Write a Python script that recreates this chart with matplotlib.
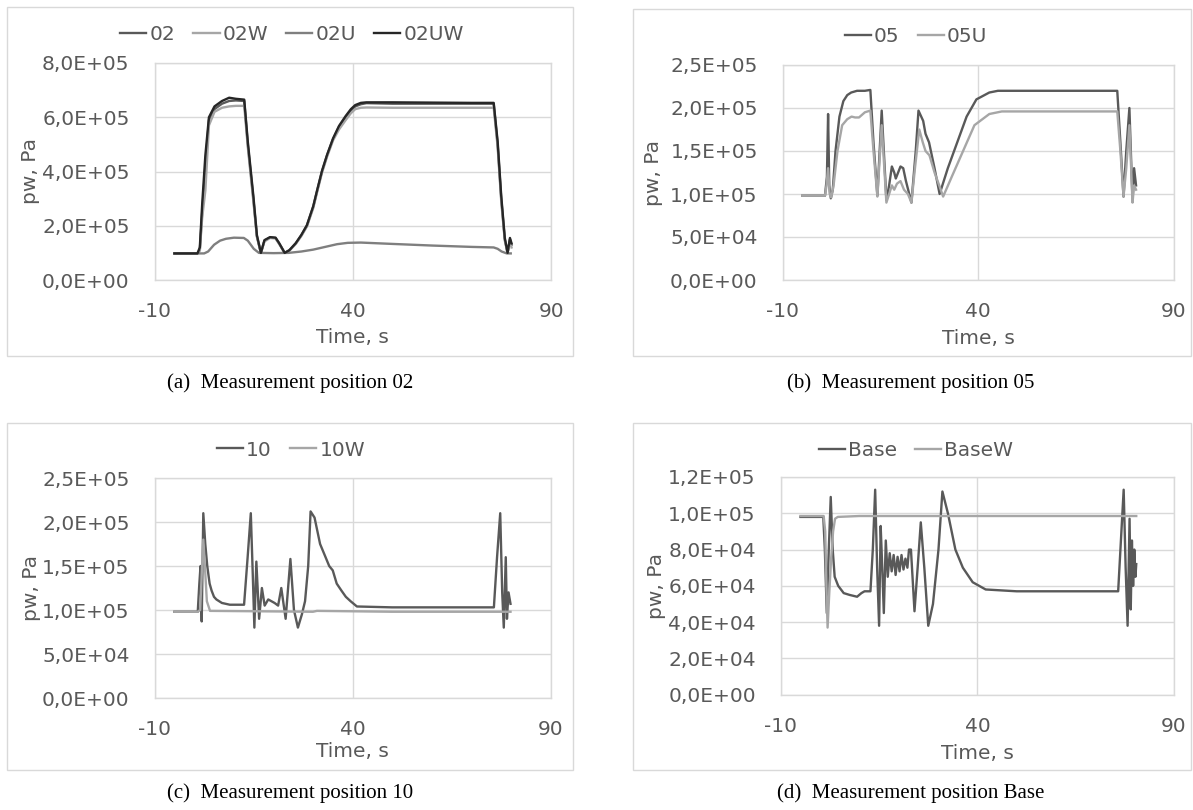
import matplotlib
matplotlib.use("Agg")
import matplotlib.pyplot as plt
from matplotlib.patches import Rectangle
from matplotlib.ticker import FuncFormatter, MultipleLocator, FixedLocator

# ---------------- data (pressure in units of 1e5 Pa) ----------------
x_ticks = [-10, 40, 90]

# Panel (a) position 02
t_a = [-5, 0.8, 1.4, 2.0, 2.8, 3.7, 5.1, 7.0, 8.8, 10.5, 12.6, 13.5, 14.9, 15.8, 16.8,
       17.7, 19.1, 20.5, 21.4, 22.8, 24.0, 25.6, 27.0, 28.4, 30.0, 31.0, 32.2, 33.5,
       35.0, 36.5, 38.2, 39.5, 40.6, 42.0, 43.4, 50, 60, 70, 75.5, 76.5, 77.4, 78.3,
       79.0, 79.6, 80.0]
p_02 = [0.98, 0.98, 1.1, 2.5, 4.2, 5.9, 6.3, 6.5, 6.6, 6.62, 6.6, 5.0, 3.0, 1.6, 1.0,
        1.45, 1.57, 1.55, 1.35, 1.0, 1.1, 1.35, 1.65, 2.0, 2.7, 3.3, 4.0, 4.6,
        5.2, 5.65, 6.0, 6.25, 6.4, 6.48, 6.52, 6.5, 6.5, 6.5, 6.5, 5.0, 3.0, 1.5,
        1.0, 1.5, 1.3]
p_02W = [0.98, 0.98, 1.1, 2.3, 3.3, 5.7, 6.2, 6.35, 6.4, 6.42, 6.42, 4.9, 2.9, 1.6, 1.0,
         1.42, 1.55, 1.53, 1.33, 1.0, 1.08, 1.33, 1.62, 1.97, 2.65, 3.25, 3.95, 4.55,
         5.15, 5.55, 5.9, 6.15, 6.3, 6.35, 6.36, 6.35, 6.35, 6.35, 6.35, 4.9, 2.9, 1.45,
         1.0, 1.4, 1.2]
p_02UW = [0.98, 0.98, 1.2, 2.8, 4.6, 6.0, 6.4, 6.6, 6.72, 6.68, 6.65, 5.1, 3.1, 1.65, 1.0,
          1.47, 1.58, 1.56, 1.36, 1.0, 1.1, 1.36, 1.66, 2.02, 2.72, 3.32, 4.02, 4.62,
          5.22, 5.68, 6.05, 6.3, 6.45, 6.53, 6.55, 6.55, 6.54, 6.53, 6.53, 5.1, 3.1, 1.55,
          1.0, 1.55, 1.35]
t_02U = [-5, 2.5, 3.5, 5, 6.5, 8, 10, 12.5, 13.5, 15, 16.3, 20, 23.8, 27, 30, 33, 36,
         38.7, 42, 50, 60, 70, 75.5, 76.5, 77.5, 78.8, 79.8]
p_02U = [0.98, 0.98, 1.05, 1.3, 1.45, 1.52, 1.56, 1.55, 1.45, 1.15, 1.0, 0.99, 1.0, 1.05,
         1.12, 1.22, 1.32, 1.37, 1.38, 1.33, 1.27, 1.22, 1.2, 1.15, 1.05, 0.98, 0.98]

# Panel (b) position 05
t_05 = [-5, 0.8, 1.3, 1.6, 1.9, 2.3, 2.8, 3.5, 4.5, 5.5, 6.5, 7.5, 9.0, 11.0, 12.4, 13.2,
        14.2, 15.3, 16.5, 17.2, 17.9, 18.5, 18.9, 19.5, 20.1, 20.8, 21.5, 22.9, 24.0,
        24.7, 25.9, 26.5, 27.4, 28.8, 30.1, 32.2, 34.6, 37.0, 39.5, 42.8, 45, 60, 75.5,
        76.3, 77.1, 77.8, 78.6, 79.4, 79.8, 80.3]
p_05 = [0.98, 0.98, 1.2, 1.93, 1.1, 0.95, 1.05, 1.5, 1.9, 2.08, 2.15, 2.18, 2.2, 2.2, 2.21,
        1.6, 0.98, 1.97, 0.93, 1.1, 1.32, 1.25, 1.18, 1.25, 1.32, 1.3, 1.15, 0.9, 1.5,
        1.97, 1.85, 1.7, 1.6, 1.3, 1.0, 1.3, 1.6, 1.9, 2.1, 2.18, 2.2, 2.2, 2.2,
        1.6, 0.97, 1.5, 2.0, 0.92, 1.3, 1.1]
t_05U = [-5, 0.8, 1.2, 1.6, 2.0, 2.4, 3.0, 4.0, 5.2, 6.5, 7.6, 8.5, 9.5, 10.5, 11.0, 12.4,
         13.2, 14.2, 15.3, 16.5, 17.2, 17.9, 18.5, 19.2, 20.1, 21.0, 22.0, 22.9, 23.8,
         24.9, 25.8, 26.5, 27.5, 28.8, 30.0, 31.0, 33.2, 36.1, 39.0, 42.8, 46, 60, 75.5,
         76.3, 77.1, 77.8, 78.6, 79.4, 79.8, 80.3]
p_05U = [0.98, 0.98, 1.1, 1.3, 1.0, 0.96, 1.1, 1.5, 1.8, 1.87, 1.9, 1.89, 1.89, 1.93, 1.95,
         1.97, 1.5, 0.97, 1.8, 0.9, 1.0, 1.1, 1.05, 1.12, 1.15, 1.05, 1.0, 0.9, 1.3,
         1.75, 1.6, 1.5, 1.45, 1.25, 1.1, 0.97, 1.2, 1.5, 1.8, 1.93, 1.96, 1.96, 1.96,
         1.5, 0.97, 1.3, 1.8, 0.9, 1.1, 1.05]

# Panel (c) position 10
t_10 = [-5, 0.9, 1.3, 1.6, 1.9, 2.3, 2.8, 3.3, 3.9, 4.4, 5.0, 5.6, 7.0, 9, 12.6, 13.5, 14.3,
        14.8, 15.2, 15.7, 16.4, 17.1, 17.8, 18.7, 19.5, 20.3, 21.2, 22.0, 23.1, 24.3, 25.2,
        26.2, 27.2, 28.0, 28.8, 29.4, 30.4, 31.8, 33.0, 34.1, 35.0, 36.0, 37.2, 38.3, 39.5,
        41.1, 50, 60, 75.7, 76.5, 77.3, 77.8, 78.2, 78.7, 79.0, 79.4, 79.9]
p_10 = [0.98, 0.98, 1.3, 1.5, 0.87, 2.1, 1.75, 1.5, 1.3, 1.22, 1.15, 1.12, 1.08, 1.06, 1.06,
        1.6, 2.1, 1.4, 0.8, 1.55, 0.9, 1.25, 1.05, 1.12, 1.1, 1.08, 1.05, 1.25, 0.9, 1.58,
        1.0, 0.8, 0.95, 1.1, 1.5, 2.12, 2.05, 1.75, 1.62, 1.5, 1.45, 1.3, 1.22, 1.15, 1.1,
        1.04, 1.03, 1.03, 1.03, 1.6, 2.1, 1.2, 0.8, 1.6, 0.9, 1.2, 1.07]
t_10W = [-5, 0.9, 1.5, 2.0, 2.3, 2.7, 3.2, 4.0, 30, 31, 50, 79.9]
p_10W = [0.98, 0.98, 1.0, 1.5, 1.8, 1.5, 1.1, 0.99, 0.98, 0.99, 0.98, 0.98]

# Panel (d) position Base
t_B = [-5, 0.8, 1.2, 1.7, 2.2, 2.7, 3.2, 3.7, 4.6, 6.0, 7.5, 9.4, 10.5, 11.3, 12.8, 13.4,
       14.0, 14.5, 15.0, 15.4, 15.8, 16.2, 16.7, 17.2, 17.7, 18.2, 18.7, 19.2, 19.7, 20.2,
       20.7, 21.2, 21.7, 22.2, 22.6, 23.1, 24.0, 24.8, 25.6, 26.5, 27.5, 28.7, 30.1, 31.1,
       32.5, 34.4, 36.3, 38.8, 42.1, 50, 60, 75.8, 76.5, 77.2, 77.7, 78.2, 78.7, 79.0,
       79.3, 79.6, 79.9, 80.2, 80.4]
p_B = [0.98, 0.98, 0.8, 0.45, 0.8, 1.09, 0.8, 0.65, 0.6, 0.56, 0.55, 0.54, 0.56, 0.57, 0.57,
       0.8, 1.13, 0.7, 0.38, 0.93, 0.7, 0.45, 0.85, 0.65, 0.78, 0.68, 0.77, 0.66, 0.76, 0.68,
       0.77, 0.69, 0.75, 0.7, 0.8, 0.8, 0.46, 0.7, 0.95, 0.7, 0.38, 0.5, 0.8, 1.12,
       1.0, 0.8, 0.7, 0.62, 0.58, 0.57, 0.57, 0.57, 0.85, 1.13, 0.7, 0.38, 0.97, 0.47,
       0.85, 0.6, 0.8, 0.65, 0.72]
t_BW = [-5, 0.9, 1.3, 1.6, 1.9, 2.3, 2.8, 3.3, 3.8, 4.5, 10, 30, 50, 70, 80.4]
p_BW = [0.985, 0.985, 0.9, 0.6, 0.37, 0.55, 0.75, 0.9, 0.97, 0.98, 0.985, 0.985, 0.985,
        0.985, 0.985]

C_DARK = "#595959"
C_LIGHT = "#a6a6a6"
C_MID = "#7f7f7f"
C_BLACK = "#262626"
TXT = "#595959"
GRID = "#d9d9d9"

W, H = 1193, 810
FS = 14.5
plt.rcParams["font.family"] = ["DejaVu Sans"]
plt.rcParams["axes.unicode_minus"] = False

fig = plt.figure(figsize=(W / 100, H / 100), dpi=100)


def rect(l, r, t, b):
    return [l / W, 1 - b / H, (r - l) / W, (b - t) / H]


def sci(v, pos):
    return f"{v:.1E}".replace(".", ",")


def box(l, r, t, b):
    fig.patches.append(Rectangle((l / W, 1 - b / H), (r - l) / W, (b - t) / H,
                                 transform=fig.transFigure, fill=False,
                                 edgecolor=GRID, lw=1.0))


def setup(ax, ymax, ystep, ylab_x, xlab_y, leg_xy, ncol):
    ax.set_xlim(-10, 90)
    ax.set_ylim(0, ymax)
    ax.xaxis.set_major_locator(FixedLocator(x_ticks))
    ax.xaxis.set_major_formatter(FuncFormatter(lambda v, p: f"{v:.0f}"))
    ax.yaxis.set_major_locator(MultipleLocator(ystep))
    ax.yaxis.set_major_formatter(FuncFormatter(sci))
    ax.grid(True, color=GRID, lw=1.0)
    ax.set_axisbelow(True)
    for s in ax.spines.values():
        s.set_color(GRID)
        s.set_linewidth(1.0)
    ax.tick_params(axis="both", length=0, labelsize=FS, labelcolor=TXT)
    ax.tick_params(axis="x", pad=16)
    ax.tick_params(axis="y", pad=18)
    ax.set_ylabel("pw, Pa", fontsize=FS, color=TXT, va="center")
    ax.yaxis.set_label_coords(ylab_x, 0.5)
    ax.set_xlabel("Time, s", fontsize=FS, color=TXT, va="center")
    ax.xaxis.set_label_coords(0.5, xlab_y)
    ax.legend(loc="center", bbox_to_anchor=(leg_xy[0] / W, 1 - leg_xy[1] / H),
              bbox_transform=fig.transFigure, ncol=ncol, frameon=False,
              fontsize=FS, handlelength=1.3, handletextpad=0.15,
              columnspacing=0.9, labelcolor=TXT, borderaxespad=0, borderpad=0)


LW = 1.7

# (a)
box(7.4, 572.6, 7.3, 356)
axa = fig.add_axes(rect(154.6, 551.2, 63, 280))
axa.plot(t_a, [v * 1e5 for v in p_02], color=C_DARK, lw=LW, label="02")
axa.plot(t_a, [v * 1e5 for v in p_02W], color=C_LIGHT, lw=LW, label="02W")
axa.plot(t_02U, [v * 1e5 for v in p_02U], color=C_MID, lw=LW, label="02U")
axa.plot(t_a, [v * 1e5 for v in p_02UW], color=C_BLACK, lw=LW, label="02UW")
setup(axa, 8e5, 2e5, -0.312, -0.267, (292, 35), 4)

# (b)
box(632.5, 1191, 9.3, 356)
axb = fig.add_axes(rect(782.7, 1174, 65, 280))
axb.plot(t_05, [v * 1e5 for v in p_05], color=C_DARK, lw=LW, label="05")
axb.plot(t_05U, [v * 1e5 for v in p_05U], color=C_LIGHT, lw=LW, label="05U")
setup(axb, 2.5e5, 5e4, -0.331, -0.27, (916, 37), 2)

# (c)
box(7.4, 572.7, 422.7, 770)
axc = fig.add_axes(rect(154.6, 550.5, 478, 698))
axc.plot(t_10, [v * 1e5 for v in p_10], color=C_DARK, lw=LW, label="10")
axc.plot(t_10W, [v * 1e5 for v in p_10W], color=C_LIGHT, lw=LW, label="10W")
setup(axc, 2.5e5, 5e4, -0.311, -0.244, (291, 450), 2)

# (d)
box(632.5, 1191, 423.3, 770)
axd = fig.add_axes(rect(780.8, 1174, 477, 694.7))
axd.plot(t_B, [v * 1e5 for v in p_B], color=C_DARK, lw=LW, label="Base")
axd.plot(t_BW, [v * 1e5 for v in p_BW], color=C_LIGHT, lw=LW, label="BaseW")
setup(axd, 1.2e5, 2e4, -0.317, -0.269, (916, 451), 2)

# captions
cap_kw = dict(fontsize=15, family=["Liberation Serif", "DejaVu Serif"], color="black",
              ha="center", va="center")
fig.text(290 / W, 1 - 383 / H, "(a)  Measurement position 02", **cap_kw)
fig.text(911 / W, 1 - 383 / H, "(b)  Measurement position 05", **cap_kw)
fig.text(290 / W, 1 - 793 / H, "(c)  Measurement position 10", **cap_kw)
fig.text(911 / W, 1 - 793 / H, "(d)  Measurement position Base", **cap_kw)

fig.savefig("out.png", dpi=100, facecolor="white")
